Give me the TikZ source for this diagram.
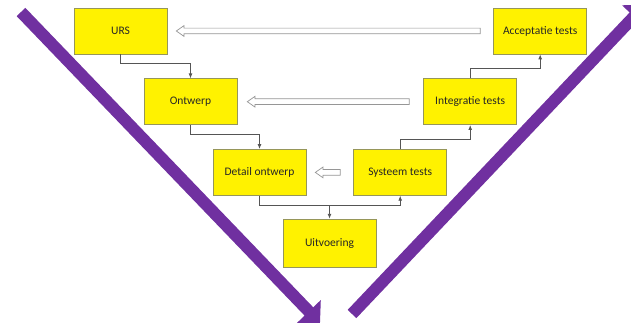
\documentclass[tikz,border=0pt]{standalone}
\usepackage{fontspec}
\setmainfont{Carlito}
\usetikzlibrary{positioning,calc,arrows.meta,shapes.arrows}
\newlength\pxl
\setlength\pxl{0.025cm}
\definecolor{vpurple}{RGB}{112,48,160}
\definecolor{boxline}{RGB}{150,150,90}
\definecolor{linkgray}{RGB}{85,85,85}
\definecolor{backgray}{RGB}{150,150,150}

\begin{document}
\begin{tikzpicture}[x=\pxl, y=\pxl, node distance=24\pxl,
		phase/.style={draw=boxline, fill=yellow, line width=0.5pt, minimum width=93\pxl, minimum height=46\pxl, inner sep=0pt, font=\fontsize{8.2}{10}\selectfont, text=black!85},
		link/.style={draw=linkgray, line width=0.6pt, -{Latex[length=3.5pt,width=2.8pt]}},
		feedback/.style={single arrow, draw=backgray, fill=white, line width=0.5pt, shape border rotate=180, inner xsep=0pt, inner ysep=2.5\pxl, text height=0pt, text depth=0pt, single arrow head extend=2.5\pxl, single arrow tip angle=70},
		vline/.style={draw=vpurple, line width=0.3cm, -{Triangle[width=0.8cm,length=0.4cm]}}]

			\useasboundingbox (0,0) rectangle (631,323);
			\clip (0,0) rectangle (631,323);

			\coordinate (vdown) at (21,311);
			\coordinate (vbottom) at (320,0);
			\coordinate (vup) at (352,9);
			\coordinate (vtop) at (645,318);
			\draw[vline] (vdown) -- (vbottom);
			\draw[vline] (vup) -- (vtop);

			\node[phase] (urs) at (120.5,292) {URS};
			\node[phase, below=of urs, xshift=70\pxl] (ontwerp) {Ontwerp};
			\node[phase, below=of ontwerp, xshift=69\pxl] (detail) {Detail ontwerp};
			\node[phase, below=23\pxl of detail, xshift=70\pxl, minimum height=48\pxl] (uitvoering) {Uitvoering};
			\node[phase, right=47\pxl of detail] (systeem) {Systeem tests};
			\node[phase, above=of systeem, xshift=70\pxl] (integratie) {Integratie tests};
			\node[phase, above=of integratie, xshift=70\pxl] (acceptatie) {Acceptatie tests};

			\draw[link] (urs.south) -- ++(0,-9) -| (ontwerp.north);
			\draw[link] (ontwerp.south) -- ++(0,-9) -| (detail.north);
			\draw[link] (detail.south) -- ++(0,-10) coordinate (split) -| (systeem.south);
			\draw[link] (split -| uitvoering.north) -- (uitvoering.north);
			\draw[link] (systeem.north) -- ++(0,10) -| (integratie.south);
			\draw[link] (integratie.north) -- ++(0,10) -| (acceptatie.south);

			\node[feedback, minimum height=304\pxl] (back1) at ($(urs.east)!.5!(acceptatie.west)$) {};
			\node[feedback, minimum height=162\pxl] (back2) at ($(ontwerp.east)!.5!(integratie.west)$) {};
			\node[feedback, minimum height=25\pxl] (back3) at ($(detail.east)!.5!(systeem.west)$) {};
	\end{tikzpicture}
\end{document}
